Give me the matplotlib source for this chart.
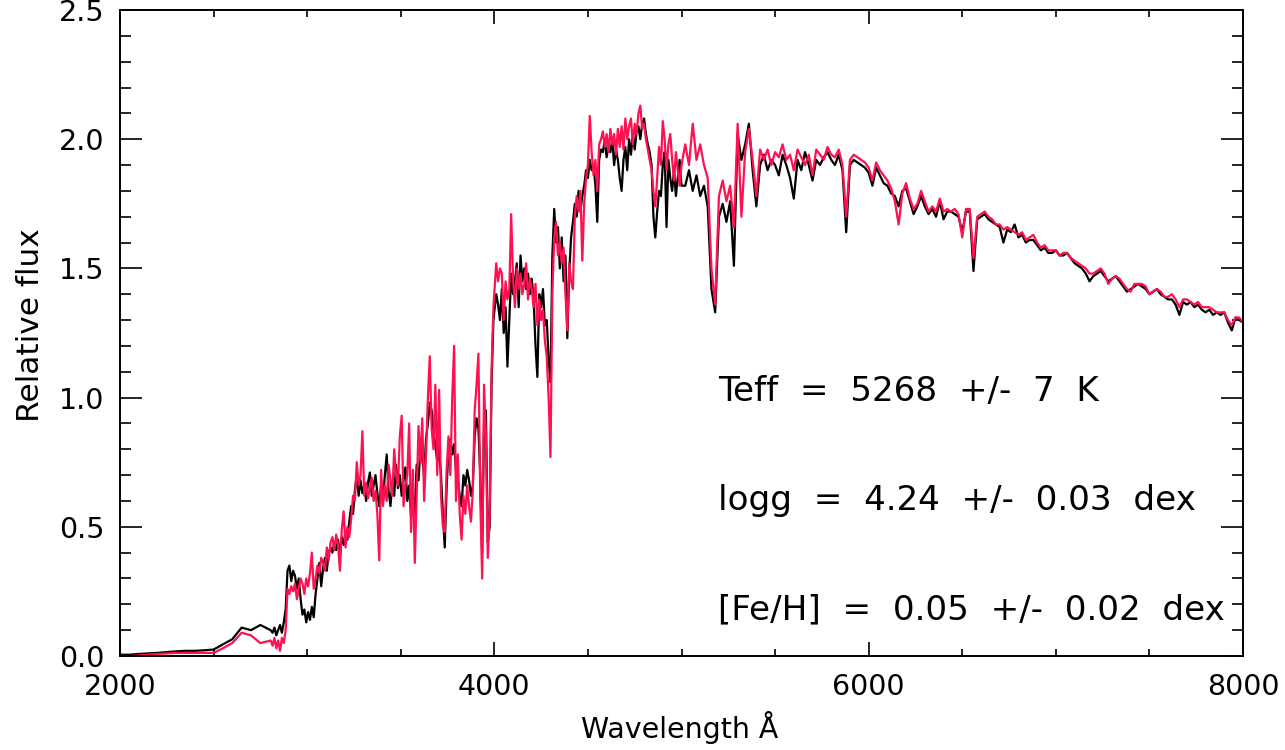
import numpy as np
import matplotlib
matplotlib.use('Agg')
import matplotlib.pyplot as plt
from matplotlib.ticker import MultipleLocator, FormatStrFormatter

# ---------------- data ----------------
# wavelength grids (Angstrom) of the sampled spectrum pieces
wl_a = np.arange(2000, 2751, 50)
wl_b = np.arange(2805, 4000, 10)
wl_c = np.arange(4010, 5001, 10)
wl_d = np.arange(5020, 5981, 20)
wl_e = np.arange(6000, 8001, 20)

# observed spectrum (black)
obs_a = [0.005, 0.005, 0.008, 0.010, 0.012, 0.015, 0.018, 0.020, 0.020, 0.022,
         0.025, 0.045, 0.065, 0.11, 0.10, 0.12]
obs_b = [0.10, 0.09, 0.11, 0.08, 0.10, 0.12, 0.09, 0.13, 0.18, 0.33,
         0.35, 0.29, 0.33, 0.31, 0.26, 0.30, 0.22, 0.16, 0.18, 0.13,
         0.17, 0.14, 0.19, 0.15, 0.24, 0.30, 0.36, 0.27, 0.34, 0.38,
         0.33, 0.40, 0.42, 0.40, 0.44, 0.41, 0.45, 0.39, 0.46, 0.43,
         0.48, 0.45, 0.52, 0.58, 0.55, 0.64, 0.70, 0.62, 0.68, 0.63,
         0.66, 0.60, 0.67, 0.71, 0.62, 0.66, 0.70, 0.63, 0.58, 0.66,
         0.60, 0.70, 0.78, 0.64, 0.58, 0.67, 0.62, 0.74, 0.65, 0.70,
         0.62, 0.68, 0.73, 0.60, 0.66, 0.54, 0.62, 0.55, 0.74, 0.68,
         0.80, 0.76, 0.70, 0.84, 0.90, 0.98, 0.95, 0.86, 0.82, 0.75,
         0.80, 0.70, 0.55, 0.42, 0.65, 0.80, 0.84, 0.78, 0.82, 0.72,
         0.68, 0.62, 0.58, 0.70, 0.66, 0.72, 0.68, 0.62, 0.66, 0.85,
         0.92, 0.88, 0.70, 0.40, 0.90, 0.95, 0.44, 0.50, 1.05, 1.30]
obs_c = [1.40, 1.36, 1.30, 1.42, 1.25, 1.35, 1.12, 1.30, 1.48, 1.40,
         1.45, 1.52, 1.35, 1.55, 1.45, 1.50, 1.42, 1.48, 1.40, 1.46,
         1.38, 1.20, 1.08, 1.40, 1.35, 1.42, 1.28, 1.30, 1.15, 1.06,
         1.55, 1.73, 1.60, 1.66, 1.50, 1.62, 1.45, 1.55, 1.23, 1.48,
         1.62, 1.68, 1.75, 1.70, 1.80, 1.72, 1.78, 1.82, 1.88, 1.85,
         1.92, 1.88, 1.90, 1.82, 1.68, 1.92, 1.96, 1.95, 2.00, 1.93,
         1.98, 1.95, 2.00, 1.90, 1.96, 1.92, 1.85, 1.80, 1.92, 1.97,
         1.88, 2.00, 1.94, 2.02, 1.96, 2.03, 2.05, 2.00, 2.06, 2.08,
         2.02, 1.98, 1.95, 1.90, 1.70, 1.62, 1.72, 1.80, 1.78, 1.90,
         1.95, 1.66, 1.92, 1.85, 1.80, 1.88, 1.78, 1.85, 1.92, 1.82]
obs_d = [1.82, 1.88, 1.80, 1.86, 1.78, 1.82, 1.74, 1.42, 1.33, 1.70,
         1.75, 1.68, 1.76, 1.51, 2.02, 1.92, 1.98, 2.06, 1.88, 1.74,
         1.90, 1.94, 1.88, 1.92, 1.90, 1.86, 1.94, 1.90, 1.85, 1.77,
         1.92, 1.88, 1.95, 1.90, 1.84, 1.92, 1.90, 1.93, 1.95, 1.92,
         1.90, 1.94, 1.88, 1.64, 1.90, 1.92, 1.91, 1.90, 1.89]
obs_e = [1.87, 1.82, 1.89, 1.86, 1.83, 1.82, 1.79, 1.78, 1.74, 1.80,
         1.81, 1.76, 1.71, 1.74, 1.78, 1.74, 1.71, 1.73, 1.70, 1.76,
         1.69, 1.72, 1.72, 1.71, 1.70, 1.64, 1.72, 1.72, 1.49, 1.69,
         1.70, 1.71, 1.69, 1.68, 1.67, 1.66, 1.60, 1.65, 1.64, 1.67,
         1.62, 1.63, 1.60, 1.61, 1.61, 1.59, 1.57, 1.58, 1.56, 1.56,
         1.57, 1.55, 1.55, 1.56, 1.54, 1.52, 1.51, 1.50, 1.48, 1.45,
         1.47, 1.48, 1.49, 1.47, 1.45, 1.46, 1.47, 1.45, 1.43, 1.41,
         1.42, 1.43, 1.44, 1.43, 1.42, 1.40, 1.41, 1.42, 1.40, 1.39,
         1.38, 1.38, 1.36, 1.32, 1.37, 1.36, 1.37, 1.35, 1.36, 1.34,
         1.33, 1.34, 1.32, 1.33, 1.32, 1.33, 1.29, 1.26, 1.31, 1.30,
         1.29]

# model spectrum (red)
mod_a = [0.0, 0.0, 0.002, 0.005, 0.008, 0.010, 0.012, 0.012, 0.012, 0.012,
         0.012, 0.03, 0.05, 0.09, 0.08, 0.05]
mod_b = [0.06, 0.04, 0.07, 0.03, 0.06, 0.02, 0.07, 0.05, 0.10, 0.26,
         0.24, 0.27, 0.25, 0.28, 0.22, 0.26, 0.30, 0.28, 0.24, 0.30,
         0.27, 0.32, 0.40, 0.26, 0.30, 0.35, 0.32, 0.38, 0.36, 0.33,
         0.42, 0.37, 0.44, 0.46, 0.41, 0.47, 0.43, 0.33, 0.49, 0.56,
         0.42, 0.50, 0.46, 0.53, 0.62, 0.60, 0.75, 0.66, 0.70, 0.87,
         0.62, 0.67, 0.61, 0.65, 0.69, 0.60, 0.64, 0.55, 0.37, 0.72,
         0.58, 0.66, 0.60, 0.74, 0.68, 0.62, 0.80, 0.70, 0.66, 0.85,
         0.93, 0.58, 0.66, 0.70, 0.90, 0.48, 0.72, 0.36, 0.62, 0.89,
         0.75, 0.92, 0.60, 0.78, 1.00, 1.16, 0.88, 0.80, 1.05, 0.70,
         1.03, 0.62, 0.50, 0.48, 0.72, 0.85, 0.70, 1.00, 1.20, 0.60,
         0.78, 0.55, 0.45, 0.62, 0.55, 0.66, 0.58, 0.52, 0.64, 0.95,
         1.05, 1.17, 0.60, 0.30, 1.05, 0.85, 0.38, 0.55, 1.10, 1.35]
mod_c = [1.52, 1.45, 1.50, 1.48, 1.30, 1.45, 1.38, 1.42, 1.71, 1.46,
         1.35, 1.50, 1.42, 1.48, 1.40, 1.44, 1.52, 1.38, 1.46, 1.42,
         1.35, 1.44, 1.28, 1.38, 1.30, 1.34, 1.22, 1.16, 1.00, 0.77,
         1.40, 1.62, 1.68, 1.55, 1.60, 1.52, 1.58, 1.40, 1.26, 1.52,
         1.45, 1.42, 1.70, 1.78, 1.72, 1.80, 1.53, 1.75, 1.85, 1.90,
         2.09, 1.95, 1.86, 1.92, 1.80, 1.98, 2.00, 2.03, 1.97, 2.02,
         1.95, 2.04, 1.98, 2.02, 1.94, 2.04, 1.97, 2.05, 1.96, 2.08,
         2.00, 2.05, 2.08, 1.98, 2.06, 2.02, 2.10, 2.13, 2.04, 2.06,
         2.00, 1.96, 1.92, 1.88, 1.80, 1.74, 1.85, 1.97, 1.90, 2.07,
         2.00, 1.88, 1.98, 2.02, 1.92, 1.84, 1.95, 1.88, 1.82, 1.90]
mod_d = [1.98, 1.90, 2.06, 1.92, 1.98, 1.90, 1.85, 1.50, 1.36, 1.78,
         1.84, 1.76, 1.82, 1.66, 2.06, 1.70, 1.95, 2.04, 1.92, 1.78,
         1.96, 1.92, 1.96, 1.90, 1.95, 1.93, 1.98, 1.92, 1.94, 1.88,
         1.96, 1.93, 1.90, 1.94, 1.86, 1.96, 1.94, 1.92, 1.97, 1.94,
         1.93, 1.96, 1.90, 1.70, 1.92, 1.94, 1.93, 1.92, 1.91]
mod_e = [1.89, 1.84, 1.91, 1.88, 1.86, 1.84, 1.81, 1.76, 1.67, 1.79,
         1.83, 1.77, 1.73, 1.75, 1.80, 1.76, 1.72, 1.74, 1.72, 1.77,
         1.72, 1.73, 1.72, 1.73, 1.71, 1.62, 1.73, 1.73, 1.54, 1.70,
         1.71, 1.72, 1.70, 1.69, 1.67, 1.67, 1.65, 1.66, 1.65, 1.64,
         1.63, 1.64, 1.61, 1.62, 1.63, 1.60, 1.58, 1.59, 1.57, 1.57,
         1.57, 1.55, 1.56, 1.56, 1.54, 1.53, 1.52, 1.51, 1.50, 1.48,
         1.48, 1.49, 1.50, 1.48, 1.44, 1.46, 1.47, 1.46, 1.44, 1.42,
         1.41, 1.44, 1.44, 1.44, 1.43, 1.40, 1.41, 1.42, 1.41, 1.39,
         1.39, 1.40, 1.38, 1.35, 1.38, 1.38, 1.37, 1.36, 1.37, 1.35,
         1.35, 1.35, 1.34, 1.33, 1.33, 1.33, 1.30, 1.28, 1.31, 1.31,
         1.29]

x_ticks = [2000, 4000, 6000, 8000]
y_ticks = [0.0, 0.5, 1.0, 1.5, 2.0, 2.5]
labels = ["Teff  =  5268  +/-  7  K",
          "logg  =  4.24  +/-  0.03  dex",
          "[Fe/H]  =  0.05  +/-  0.02  dex"]

# ---------------- assemble ----------------
wavelength = np.concatenate([wl_a, wl_b, wl_c, wl_d, wl_e])
flux_obs = np.array(obs_a + obs_b + obs_c + obs_d + obs_e)
flux_mod = np.array(mod_a + mod_b + mod_c + mod_d + mod_e)
n = min(len(wavelength), len(flux_obs), len(flux_mod))

RED = '#ff1050'
plt.rcParams['font.family'] = ['DejaVu Sans']

fig = plt.figure(figsize=(12.85, 7.5), dpi=100)
ax = fig.add_axes([120 / 1285, 94 / 750, 1123 / 1285, 646 / 750])

ax.plot(wavelength[:n], flux_obs[:n], color='black', lw=1.6)
ax.plot(wavelength[:n], flux_mod[:n], color=RED, lw=1.6)

ax.set_xlim(2000, 8000)
ax.set_ylim(0, 2.5)
ax.set_xticks(x_ticks)
ax.set_yticks(y_ticks)
ax.xaxis.set_minor_locator(MultipleLocator(500))
ax.yaxis.set_minor_locator(MultipleLocator(0.1))
ax.yaxis.set_major_formatter(FormatStrFormatter('%.1f'))

ax.tick_params(which='both', direction='in', top=True, right=True,
               width=1.2, color='black', labelsize=20.5)
ax.tick_params(axis='x', which='major', length=10, pad=12)
ax.tick_params(axis='x', which='minor', length=5)
ax.tick_params(axis='y', which='major', length=16, pad=11)
ax.tick_params(axis='y', which='minor', length=8)
for sp in ax.spines.values():
    sp.set_linewidth(1.4)

ax.set_xlabel('Wavelength Å', fontsize=20.5)
ax.set_ylabel('Relative flux', fontsize=22.5)
ax.xaxis.label.set_va('center')
ax.yaxis.label.set_va('center')
ax.xaxis.set_label_coords(0.4987, (656 - 728) / 646)
ax.yaxis.set_label_coords((31 - 120) / 1123, 0.512)

for txt, ybase in zip(labels, [401, 510, 619]):
    ax.text((718 - 120) / 1123, (656 - ybase) / 646, txt, transform=ax.transAxes,
            fontsize=24.6, ha='left', va='baseline', color='black')

fig.savefig('out.png', dpi=100)
